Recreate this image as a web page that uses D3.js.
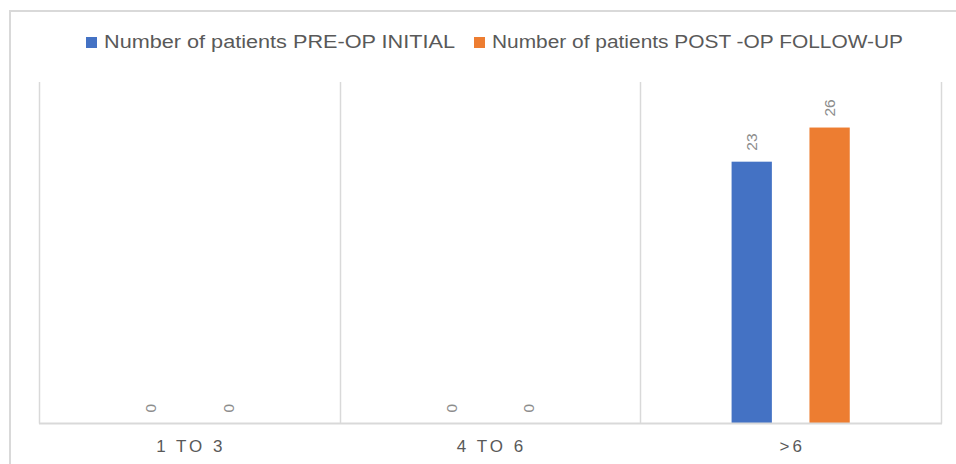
<!DOCTYPE html>
<html>
<head>
<meta charset="utf-8">
<script src="https://cdn.jsdelivr.net/npm/d3@7"></script>
<style>
  html, body { margin: 0; padding: 0; background: #fff; }
  svg { display: block; }
</style>
</head>
<body>
<svg id="chart" width="956" height="464"></svg>
<script>
const categories = ["1 TO 3", "4 TO 6", ">6"];
const seriesNames = ["Number of patients PRE-OP INITIAL", "Number of patients POST -OP FOLLOW-UP"];
const preOp = [0, 0, 23];
const postOp = [0, 0, 26];
const yMax = 30;

const colors = ["#4472c4", "#ed7d31"];
const margin = { left: 39, top: 82 };
const plotBottom = 423.5;
const plotRight = 941;

const svg = d3.select("#chart");

// outer chart border
svg.append("path")
  .attr("d", `M10,464 L10,11 L956,11`)
  .attr("fill", "none").attr("stroke", "#d9d9d9").attr("stroke-width", 2);

const x = d3.scaleBand().domain(categories).range([margin.left, plotRight]).paddingInner(0).paddingOuter(0);
const y = d3.scaleLinear().domain([0, yMax]).range([plotBottom, margin.top]);

const bw = x.bandwidth();
const barW = bw * 0.134;
const gapIn = bw * 0.125;
const groupW = 2 * barW + gapIn;
const seriesData = [preOp, postOp];

// vertical category gridlines
const gridX = categories.map(c => x(c)).concat([plotRight]);
svg.append("g").selectAll("line").data(gridX).join("line")
  .attr("x1", d => Math.round(d) + 0.5).attr("x2", d => Math.round(d) + 0.5)
  .attr("y1", margin.top).attr("y2", plotBottom)
  .attr("stroke", "#d9d9d9").attr("stroke-width", 1.5);

// bars
seriesData.forEach((vals, si) => {
  const g = svg.append("g");
  g.selectAll("rect").data(vals).join("rect")
    .attr("x", (d, i) => x(categories[i]) + bw / 2 - groupW / 2 + si * (barW + gapIn))
    .attr("width", barW)
    .attr("y", d => y(d))
    .attr("height", d => plotBottom - y(d))
    .attr("fill", colors[si]);
  g.selectAll("text").data(vals).join("text")
    .attr("transform", (d, i) => {
      const cx = x(categories[i]) + bw / 2 - groupW / 2 + si * (barW + gapIn) + barW / 2 + 5.5;
      const ty = y(d) - 11;
      return `translate(${cx},${ty}) rotate(-90)`;
    })
    .attr("text-anchor", "start")
    .attr("font-family", "'Liberation Sans', Arial, sans-serif")
    .attr("font-size", 15.5)
    .attr("fill", "#8c8c8c")
    .text(d => d);
});

// x axis baseline
svg.append("line")
  .attr("x1", margin.left).attr("x2", plotRight + 1)
  .attr("y1", plotBottom).attr("y2", plotBottom)
  .attr("stroke", "#d9d9d9").attr("stroke-width", 2);

// x axis labels
const xAxis = d3.axisBottom(x).tickSize(0).tickPadding(0);
const ax = svg.append("g").attr("transform", `translate(0,${plotBottom})`).call(xAxis);
ax.select(".domain").remove();
ax.selectAll("text")
  .attr("y", 28.5)
  .attr("dy", 0)
  .attr("dx", 1.5)
  .attr("font-family", "'Liberation Sans', Arial, sans-serif")
  .attr("font-size", 17)
  .attr("letter-spacing", "3px")
  .attr("fill", "#595959");

// legend
const legendItems = [
  { name: seriesNames[0], color: colors[0], sx: 86, tx: 104, tw: 351 },
  { name: seriesNames[1], color: colors[1], sx: 474, tx: 492, tw: 411 }
];
const lg = svg.append("g");
lg.selectAll("rect").data(legendItems).join("rect")
  .attr("x", d => d.sx).attr("y", 37).attr("width", 11).attr("height", 11)
  .attr("fill", d => d.color);
lg.selectAll("text").data(legendItems).join("text")
  .attr("x", d => d.tx).attr("y", 48)
  .attr("font-family", "'Liberation Sans', Arial, sans-serif")
  .attr("font-size", 17.5)
  .attr("fill", "#595959")
  .attr("textLength", d => d.tw)
  .attr("lengthAdjust", "spacingAndGlyphs")
  .text(d => d.name);
</script>
</body>
</html>
